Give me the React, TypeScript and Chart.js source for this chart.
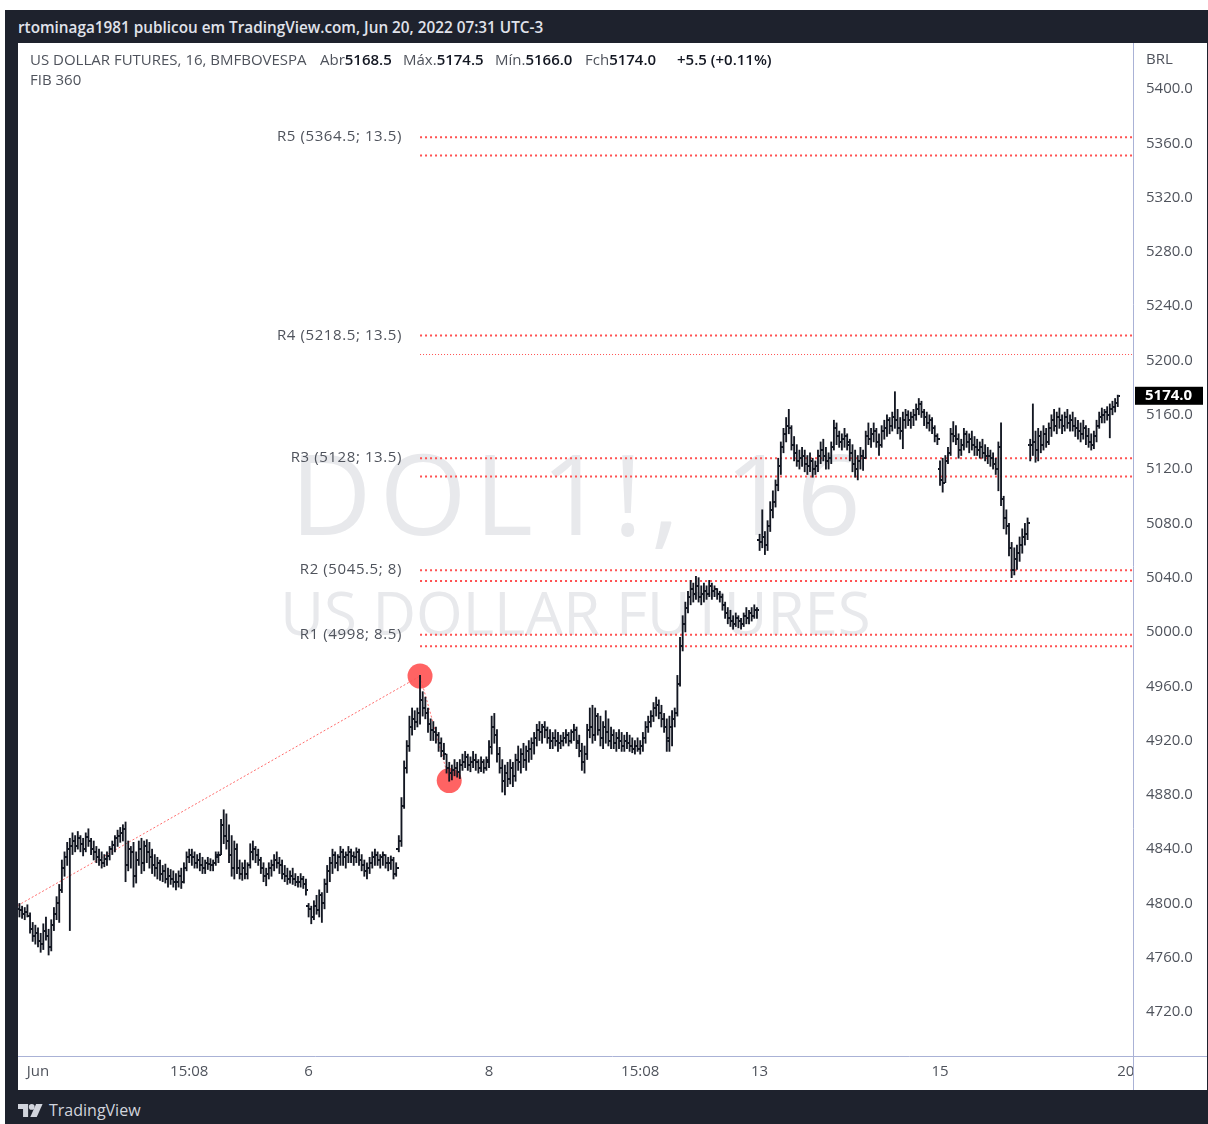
import React, { useEffect, useRef } from 'react';
import { Chart, registerables } from 'chart.js';

Chart.register(...registerables);

// [open, high, low, close] per 16-minute bar
type OHLC = [number, number, number, number];

const may31: OHLC[] = [
  [4796, 4800, 4790, 4795], [4795, 4798, 4789, 4792], [4792, 4797, 4788, 4794], [4794, 4799, 4790, 4791],
  [4791, 4793, 4778, 4781], [4781, 4786, 4772, 4776], [4776, 4784, 4770, 4778],
];

const jun01: OHLC[] = [
  [4778, 4782, 4768, 4772], [4772, 4778, 4764, 4770], [4770, 4785, 4766, 4780], [4780, 4790, 4773, 4776],
  [4776, 4781, 4762, 4768], [4768, 4788, 4765, 4784], [4784, 4797, 4780, 4792], [4792, 4805, 4788, 4800],
  [4800, 4814, 4786, 4810], [4810, 4832, 4808, 4826], [4826, 4838, 4820, 4834], [4834, 4845, 4828, 4840],
  [4840, 4848, 4780, 4842], [4842, 4852, 4836, 4846], [4846, 4850, 4838, 4842], [4842, 4853, 4840, 4848],
  [4848, 4850, 4838, 4844], [4844, 4848, 4835, 4840], [4840, 4852, 4838, 4849], [4849, 4855, 4842, 4846],
  [4846, 4848, 4836, 4840], [4840, 4846, 4832, 4838], [4838, 4842, 4830, 4834], [4834, 4840, 4828, 4832],
  [4832, 4838, 4826, 4830], [4830, 4836, 4827, 4833], [4833, 4838, 4828, 4835], [4835, 4842, 4832, 4840],
  [4840, 4846, 4836, 4843], [4843, 4850, 4838, 4848], [4848, 4854, 4842, 4850], [4850, 4856, 4845, 4852],
  [4852, 4858, 4846, 4855], [4855, 4860, 4816, 4828],
];

const jun02: OHLC[] = [
  [4828, 4846, 4824, 4840], [4840, 4842, 4826, 4838], [4838, 4845, 4812, 4820], [4820, 4838, 4815, 4832],
  [4832, 4846, 4828, 4840], [4840, 4848, 4822, 4830], [4830, 4846, 4824, 4842], [4842, 4847, 4830, 4838],
  [4838, 4845, 4826, 4834], [4834, 4840, 4822, 4828], [4828, 4836, 4820, 4826], [4826, 4834, 4818, 4830],
  [4830, 4832, 4817, 4822], [4822, 4828, 4816, 4824], [4824, 4829, 4815, 4818], [4818, 4826, 4812, 4820],
  [4820, 4825, 4814, 4818], [4818, 4824, 4812, 4816], [4816, 4822, 4810, 4816], [4816, 4824, 4812, 4820],
  [4820, 4826, 4811, 4816], [4816, 4830, 4815, 4826], [4826, 4838, 4824, 4834], [4834, 4840, 4830, 4836],
  [4836, 4840, 4828, 4834], [4834, 4838, 4826, 4830], [4830, 4836, 4826, 4832], [4832, 4837, 4824, 4828],
  [4828, 4834, 4822, 4826], [4826, 4832, 4822, 4830], [4830, 4834, 4825, 4829], [4829, 4833, 4824, 4828],
  [4828, 4832, 4824, 4830], [4830, 4838, 4828, 4836],
];

const jun03: OHLC[] = [
  [4834, 4838, 4830, 4836], [4836, 4862, 4836, 4858], [4858, 4869, 4844, 4850], [4850, 4866, 4840, 4846],
  [4846, 4858, 4830, 4836], [4836, 4850, 4820, 4826], [4826, 4846, 4818, 4840], [4840, 4844, 4822, 4826],
  [4826, 4832, 4818, 4822], [4822, 4830, 4817, 4826], [4826, 4832, 4818, 4822], [4822, 4830, 4818, 4828],
  [4828, 4844, 4826, 4838], [4838, 4846, 4832, 4840], [4840, 4842, 4830, 4836], [4836, 4840, 4828, 4832],
  [4832, 4834, 4822, 4826], [4826, 4830, 4816, 4820], [4820, 4826, 4813, 4822], [4822, 4830, 4818, 4826],
  [4826, 4832, 4820, 4828], [4828, 4836, 4824, 4832], [4832, 4838, 4826, 4830], [4830, 4834, 4822, 4828],
  [4828, 4832, 4818, 4822], [4822, 4828, 4816, 4820], [4820, 4826, 4814, 4818], [4818, 4824, 4815, 4820],
  [4820, 4826, 4814, 4818], [4818, 4822, 4813, 4816], [4816, 4820, 4812, 4816], [4816, 4822, 4812, 4818],
  [4818, 4820, 4811, 4814], [4814, 4818, 4806, 4810],
];

const jun06: OHLC[] = [
  [4798, 4800, 4790, 4796], [4796, 4798, 4785, 4790], [4790, 4802, 4788, 4798], [4798, 4806, 4792, 4795],
  [4795, 4810, 4790, 4806], [4806, 4808, 4786, 4800], [4800, 4818, 4796, 4814], [4814, 4828, 4808, 4824],
  [4824, 4834, 4816, 4830], [4830, 4840, 4822, 4836], [4836, 4838, 4826, 4830], [4830, 4836, 4824, 4834],
  [4834, 4842, 4828, 4838], [4838, 4840, 4828, 4834], [4834, 4838, 4826, 4836], [4836, 4842, 4830, 4838],
  [4838, 4840, 4830, 4835], [4835, 4838, 4828, 4834], [4834, 4841, 4830, 4838], [4838, 4840, 4828, 4832],
  [4832, 4836, 4824, 4828], [4828, 4832, 4820, 4824], [4824, 4830, 4818, 4826], [4826, 4834, 4822, 4830],
  [4830, 4838, 4826, 4834], [4834, 4840, 4828, 4836], [4836, 4838, 4828, 4832], [4832, 4836, 4826, 4834],
  [4834, 4838, 4828, 4836], [4836, 4836, 4826, 4830], [4830, 4834, 4824, 4830], [4830, 4835, 4825, 4832],
  [4832, 4834, 4818, 4822], [4822, 4830, 4820, 4826],
];

const jun07: OHLC[] = [
  [4840, 4850, 4838, 4846], [4846, 4878, 4842, 4872], [4872, 4905, 4870, 4900], [4900, 4920, 4896, 4916],
  [4916, 4938, 4912, 4930], [4930, 4944, 4924, 4936], [4936, 4942, 4928, 4934], [4934, 4944, 4930, 4940],
  [4940, 4968, 4932, 4950], [4950, 4956, 4938, 4944], [4944, 4952, 4936, 4940], [4940, 4944, 4926, 4932],
  [4932, 4936, 4920, 4928], [4928, 4934, 4920, 4926], [4926, 4930, 4918, 4924], [4924, 4926, 4912, 4918],
  [4918, 4922, 4908, 4912], [4912, 4918, 4906, 4910], [4910, 4910, 4896, 4900], [4900, 4904, 4890, 4896],
  [4896, 4902, 4891, 4898], [4898, 4906, 4894, 4900], [4900, 4904, 4893, 4897], [4897, 4906, 4892, 4902],
  [4902, 4910, 4898, 4904], [4904, 4912, 4900, 4908], [4908, 4910, 4898, 4902], [4902, 4908, 4897, 4904],
  [4904, 4912, 4900, 4906], [4906, 4910, 4898, 4904], [4904, 4906, 4896, 4900], [4900, 4908, 4897, 4904],
  [4904, 4906, 4896, 4900], [4900, 4908, 4898, 4904],
];

const jun08: OHLC[] = [
  [4906, 4920, 4900, 4915], [4915, 4938, 4910, 4930], [4930, 4940, 4918, 4924], [4924, 4928, 4904, 4910],
  [4910, 4915, 4896, 4900], [4900, 4906, 4882, 4890], [4890, 4902, 4880, 4896], [4896, 4904, 4886, 4892],
  [4892, 4906, 4888, 4900], [4900, 4904, 4886, 4894], [4894, 4910, 4890, 4906], [4906, 4916, 4898, 4904],
  [4904, 4914, 4896, 4910], [4910, 4918, 4900, 4906], [4906, 4916, 4898, 4912], [4912, 4920, 4904, 4914],
  [4914, 4922, 4906, 4918], [4918, 4926, 4910, 4922], [4922, 4932, 4916, 4928], [4928, 4934, 4920, 4926],
  [4926, 4932, 4918, 4930], [4930, 4934, 4922, 4928], [4928, 4930, 4918, 4922], [4922, 4928, 4914, 4920],
  [4920, 4926, 4914, 4922], [4922, 4928, 4916, 4920], [4920, 4926, 4912, 4918], [4918, 4924, 4914, 4920],
  [4920, 4926, 4916, 4922], [4922, 4928, 4918, 4924], [4924, 4926, 4916, 4920], [4920, 4928, 4918, 4926],
  [4926, 4932, 4920, 4928], [4928, 4930, 4914, 4918],
];

const jun09: OHLC[] = [
  [4920, 4924, 4908, 4912], [4912, 4918, 4898, 4904], [4904, 4916, 4896, 4910], [4910, 4932, 4906, 4928],
  [4928, 4944, 4922, 4930], [4930, 4946, 4918, 4924], [4924, 4944, 4920, 4938], [4938, 4940, 4924, 4928],
  [4928, 4938, 4916, 4922], [4922, 4934, 4914, 4930], [4930, 4942, 4918, 4926], [4926, 4936, 4916, 4920],
  [4920, 4930, 4914, 4924], [4924, 4928, 4914, 4918], [4918, 4926, 4912, 4922], [4922, 4928, 4914, 4920],
  [4920, 4926, 4912, 4916], [4916, 4924, 4912, 4920], [4920, 4926, 4914, 4918], [4918, 4924, 4912, 4916],
  [4916, 4922, 4911, 4914], [4914, 4920, 4910, 4916], [4916, 4922, 4912, 4914], [4914, 4920, 4910, 4916],
  [4916, 4926, 4912, 4922], [4922, 4934, 4918, 4930], [4930, 4938, 4926, 4934], [4934, 4942, 4930, 4938],
  [4938, 4948, 4934, 4944], [4944, 4952, 4938, 4946], [4946, 4950, 4936, 4940], [4940, 4946, 4930, 4936],
  [4936, 4940, 4926, 4930], [4930, 4936, 4912, 4920],
];

const jun10: OHLC[] = [
  [4922, 4938, 4912, 4930], [4930, 4942, 4916, 4936], [4936, 4944, 4930, 4940], [4940, 4968, 4938, 4962],
  [4962, 4996, 4960, 4990], [4990, 5012, 4986, 5006], [5006, 5022, 5000, 5018], [5018, 5030, 5014, 5026],
  [5026, 5038, 5020, 5032], [5032, 5036, 5022, 5028], [5028, 5041, 5024, 5034], [5034, 5040, 5022, 5026],
  [5026, 5034, 5020, 5028], [5028, 5036, 5022, 5030], [5030, 5034, 5024, 5028], [5028, 5038, 5026, 5034],
  [5034, 5036, 5024, 5030], [5030, 5034, 5026, 5032], [5032, 5032, 5024, 5028], [5028, 5030, 5022, 5026],
  [5026, 5028, 5016, 5020], [5020, 5022, 5010, 5014], [5014, 5018, 5006, 5010], [5010, 5016, 5004, 5008],
  [5008, 5012, 5002, 5006], [5006, 5014, 5004, 5010], [5010, 5012, 5003, 5008], [5008, 5010, 5002, 5006],
  [5006, 5014, 5004, 5012], [5012, 5018, 5006, 5010], [5010, 5016, 5006, 5014], [5014, 5018, 5008, 5012],
  [5012, 5020, 5010, 5016], [5016, 5018, 5010, 5016],
];

const jun13: OHLC[] = [
  [5068, 5072, 5060, 5066], [5066, 5090, 5062, 5070], [5070, 5074, 5057, 5064], [5064, 5082, 5060, 5078],
  [5078, 5096, 5074, 5090], [5090, 5104, 5084, 5096], [5096, 5112, 5092, 5108], [5108, 5128, 5104, 5122],
  [5122, 5140, 5116, 5136], [5136, 5150, 5132, 5146], [5146, 5158, 5140, 5152], [5152, 5164, 5146, 5150],
  [5150, 5152, 5134, 5138], [5138, 5144, 5126, 5132], [5132, 5138, 5122, 5126], [5126, 5134, 5120, 5128],
  [5128, 5136, 5122, 5130], [5130, 5134, 5118, 5124], [5124, 5130, 5116, 5122], [5122, 5132, 5118, 5126],
  [5126, 5128, 5114, 5120], [5120, 5126, 5116, 5122], [5122, 5134, 5118, 5130], [5130, 5140, 5124, 5134],
  [5134, 5142, 5126, 5130], [5130, 5136, 5120, 5126], [5126, 5132, 5120, 5128], [5128, 5140, 5124, 5136],
  [5136, 5156, 5134, 5150], [5150, 5154, 5138, 5144], [5144, 5148, 5136, 5140], [5140, 5146, 5134, 5142],
  [5142, 5150, 5136, 5144], [5144, 5146, 5134, 5138],
];

const jun14: OHLC[] = [
  [5140, 5142, 5126, 5132], [5132, 5138, 5118, 5124], [5124, 5134, 5114, 5120], [5120, 5130, 5112, 5126],
  [5126, 5136, 5120, 5130], [5130, 5134, 5119, 5128], [5128, 5148, 5128, 5144], [5144, 5154, 5138, 5142],
  [5142, 5150, 5136, 5146], [5146, 5154, 5140, 5148], [5148, 5150, 5136, 5140], [5140, 5146, 5130, 5138],
  [5138, 5152, 5136, 5148], [5148, 5156, 5142, 5150], [5150, 5160, 5144, 5156], [5156, 5158, 5146, 5152],
  [5152, 5162, 5148, 5158], [5158, 5177, 5150, 5156], [5156, 5164, 5146, 5150], [5150, 5158, 5142, 5148],
  [5148, 5162, 5135, 5156], [5156, 5164, 5150, 5160], [5160, 5163, 5152, 5156], [5156, 5162, 5150, 5158],
  [5158, 5164, 5152, 5160], [5160, 5168, 5156, 5164], [5164, 5172, 5160, 5168], [5168, 5170, 5158, 5162],
  [5162, 5164, 5152, 5158], [5158, 5162, 5150, 5154], [5154, 5160, 5148, 5156], [5156, 5158, 5146, 5150],
  [5150, 5152, 5140, 5144], [5144, 5146, 5138, 5142],
];

const jun15: OHLC[] = [
  [5120, 5126, 5108, 5112], [5112, 5128, 5103, 5110], [5110, 5130, 5110, 5126], [5126, 5136, 5124, 5132],
  [5132, 5150, 5130, 5146], [5146, 5155, 5140, 5144], [5144, 5152, 5138, 5142], [5142, 5146, 5128, 5134],
  [5134, 5142, 5130, 5138], [5138, 5150, 5134, 5146], [5146, 5148, 5136, 5140], [5140, 5146, 5132, 5142],
  [5142, 5148, 5134, 5138], [5138, 5144, 5130, 5136], [5136, 5142, 5130, 5134], [5134, 5140, 5128, 5136],
  [5136, 5142, 5128, 5132], [5132, 5138, 5126, 5130], [5130, 5136, 5124, 5130], [5130, 5134, 5122, 5128],
  [5128, 5132, 5120, 5124], [5124, 5128, 5116, 5120], [5120, 5140, 5104, 5136], [5136, 5154, 5093, 5098],
  [5098, 5100, 5076, 5084], [5084, 5090, 5072, 5078], [5078, 5080, 5056, 5062], [5062, 5066, 5040, 5046],
  [5046, 5062, 5042, 5054], [5054, 5064, 5046, 5058], [5058, 5070, 5052, 5064], [5064, 5076, 5058, 5070],
  [5070, 5080, 5064, 5072], [5072, 5084, 5068, 5080],
];

const jun17: OHLC[] = [
  [5138, 5142, 5126, 5138], [5138, 5168, 5130, 5140], [5140, 5148, 5125, 5134], [5134, 5150, 5126, 5144],
  [5144, 5148, 5132, 5138], [5138, 5152, 5134, 5146], [5146, 5150, 5136, 5140], [5140, 5154, 5138, 5150],
  [5150, 5160, 5144, 5156], [5156, 5164, 5148, 5152], [5152, 5162, 5146, 5158], [5158, 5165, 5150, 5156],
  [5156, 5160, 5146, 5152], [5152, 5162, 5148, 5158], [5158, 5164, 5150, 5154], [5154, 5160, 5148, 5156],
  [5156, 5162, 5148, 5152], [5152, 5158, 5144, 5150], [5150, 5156, 5142, 5148], [5148, 5154, 5140, 5146],
  [5146, 5156, 5142, 5150], [5150, 5152, 5138, 5144], [5144, 5150, 5136, 5140], [5140, 5146, 5134, 5138],
  [5138, 5148, 5135, 5144], [5144, 5156, 5140, 5152], [5152, 5162, 5150, 5158], [5158, 5165, 5154, 5160],
  [5160, 5164, 5154, 5162], [5162, 5166, 5156, 5160], [5160, 5168, 5143, 5164], [5164, 5170, 5160, 5166],
  [5166, 5172, 5162, 5168.5], [5168.5, 5174.5, 5166, 5174],
];

const sessions: OHLC[][] = [may31, jun01, jun02, jun03, jun06, jun07, jun08, jun09, jun10, jun13, jun14, jun15, jun17];
const bars: OHLC[] = sessions.flat();

// time axis (bar index of each label)
const xTickIndex = [7, 64, 109, 177, 234, 279, 347, 417];
const xTickLabels = ['Jun', '15:08', '6', '8', '15:08', '13', '15', '20'];
const indexMin = -0.54;
const indexMax = 419.74;

// price axis
const yTickValues = [4720, 4760, 4800, 4840, 4880, 4920, 4960, 5000, 5040, 5080, 5120, 5160, 5200, 5240, 5280, 5320, 5360, 5400];
const priceMin = 4687.6;
const priceMax = 5433.9;

// FIB 360 levels: name, level, range
const rNames = ['R1', 'R2', 'R3', 'R4', 'R5'];
const rLevels = [4998, 5045.5, 5128, 5218.5, 5364.5];
const rRanges = [8.5, 8, 13.5, 13.5, 13.5];
const rStartIndex = 151;

// swing drawing
const swingIndex = [-0.6, 151, 162];
const swingPrice = [4798.5, 4967.5, 4890.5];
const markerIndex = [151, 162];
const markerPrice = [4967.5, 4890.5];

const lastClose = 5174.0;

const FONT = '"Open Sans", "DejaVu Sans", sans-serif';
const TEXT = '#4f535c';
const RED = '#ff5252';

export default function App() {
  const ref = useRef<HTMLCanvasElement>(null);

  useEffect(() => {
    const canvas = ref.current;
    if (!canvas) return;

    const mkTick = (left: boolean) => {
      const c = document.createElement('canvas');
      c.width = 5;
      c.height = 2;
      const g = c.getContext('2d')!;
      g.fillStyle = '#131722';
      if (left) g.fillRect(0, 0, 2, 2);
      else g.fillRect(3, 0, 2, 2);
      return c;
    };
    const openTick = mkTick(true);
    const closeTick = mkTick(false);

    const decor = {
      id: 'tvDecor',
      beforeDatasetsDraw(chart: any) {
        const { ctx, chartArea: a, scales } = chart;
        const xs = scales.x;
        const ys = scales.y;
        ctx.save();
        // watermark
        const cx = (a.left + a.right) / 2;
        ctx.fillStyle = '#e8e9ec';
        ctx.textAlign = 'center';
        ctx.textBaseline = 'alphabetic';
        ctx.font = `112px ${FONT}`;
        (ctx as any).letterSpacing = '8px';
        ctx.fillText('DOL1!, 16', cx + 4, a.top + 492);
        (ctx as any).letterSpacing = '0px';
        ctx.font = `60px ${FONT}`;
        ctx.fillText('US DOLLAR FUTURES', cx, a.top + 592);

        // FIB 360 levels
        const x0 = xs.getPixelForValue(rStartIndex);
        const x1 = a.right;
        rLevels.forEach((lv, k) => {
          const pair = [lv, lv - rRanges[k]];
          pair.forEach((p, m) => {
            const thin = k === 3 && m === 1;
            const py = thin ? Math.round(ys.getPixelForValue(p)) + 0.5 : ys.getPixelForValue(p);
            ctx.beginPath();
            ctx.strokeStyle = RED;
            ctx.lineWidth = thin ? 1 : 2;
            ctx.setLineDash(thin ? [1, 2] : [2, 3]);
            ctx.moveTo(x0, py);
            ctx.lineTo(x1, py);
            ctx.stroke();
          });
          ctx.setLineDash([]);
          ctx.fillStyle = TEXT;
          ctx.font = `15px ${FONT}`;
          (ctx as any).letterSpacing = '0.6px';
          ctx.textAlign = 'right';
          ctx.textBaseline = 'middle';
          ctx.fillText(`${rNames[k]} (${lv}; ${rRanges[k]})`, x0 - 18, ys.getPixelForValue(lv));
          (ctx as any).letterSpacing = '0px';
        });
        ctx.restore();
      },
      afterDraw(chart: any) {
        const { ctx, chartArea: a, scales, width, height } = chart;
        const ys = scales.y;
        ctx.save();
        ctx.strokeStyle = '#aab2d6';
        ctx.lineWidth = 1;
        ctx.beginPath();
        ctx.moveTo(0, Math.round(a.bottom) + 0.5);
        ctx.lineTo(width, Math.round(a.bottom) + 0.5);
        ctx.moveTo(Math.round(a.right) + 0.5, 0);
        ctx.lineTo(Math.round(a.right) + 0.5, height);
        ctx.stroke();
        // last price badge
        const py = ys.getPixelForValue(lastClose);
        ctx.fillStyle = '#000000';
        ctx.fillRect(a.right + 2, py - 9, 68, 18);
        ctx.fillStyle = '#ffffff';
        ctx.font = `bold 15px ${FONT}`;
        ctx.textAlign = 'left';
        ctx.textBaseline = 'middle';
        ctx.fillText(lastClose.toFixed(1), a.right + 12, py);
        ctx.restore();
      },
    };

    const chart = new Chart(canvas, {
      type: 'bar',
      data: {
        datasets: [
          {
            type: 'bar',
            data: bars.map((b, i) => ({ x: i, y: [b[2], b[1]] })) as any,
            backgroundColor: '#131722',
            borderWidth: 0,
            barThickness: 1.2,
            grouped: false,
            order: 1,
          } as any,
          {
            type: 'line',
            data: bars.map((b, i) => ({ x: i, y: b[0] })),
            showLine: false,
            pointStyle: openTick,
            pointRadius: 2,
            order: 0,
          } as any,
          {
            type: 'line',
            data: bars.map((b, i) => ({ x: i, y: b[3] })),
            showLine: false,
            pointStyle: closeTick,
            pointRadius: 2,
            order: 0,
          } as any,
          {
            type: 'line',
            data: swingIndex.map((x, k) => ({ x, y: swingPrice[k] })),
            borderColor: 'rgba(255,82,82,0.85)',
            borderWidth: 1,
            borderDash: [2, 2],
            pointRadius: 0,
            tension: 0,
            fill: false,
            order: 3,
          } as any,
          {
            type: 'scatter',
            data: markerIndex.map((x, k) => ({ x, y: markerPrice[k] })),
            backgroundColor: 'rgba(255,82,82,0.9)',
            borderWidth: 0,
            pointRadius: 12.5,
            order: 2,
          } as any,
        ],
      },
      options: {
        responsive: false,
        animation: false,
        events: [],
        layout: { padding: 0, autoPadding: false },
        plugins: { legend: { display: false }, tooltip: { enabled: false }, title: { display: false } },
        scales: {
          x: {
            type: 'linear',
            min: indexMin,
            max: indexMax,
            offset: false,
            grid: { display: false, drawTicks: false },
            border: { display: false },
            afterBuildTicks: (s: any) => {
              s.ticks = xTickIndex.map((v) => ({ value: v }));
            },
            afterFit: (s: any) => {
              s.height = 34;
              s.paddingLeft = 0;
              s.paddingRight = 0;
              s.paddingTop = 0;
              s.paddingBottom = 0;
            },
            ticks: {
              autoSkip: false,
              maxRotation: 0,
              minRotation: 0,
              padding: 7,
              color: TEXT,
              font: { family: FONT, size: 15 },
              callback: (_v: any, i: number) => xTickLabels[i],
            },
          },
          y: {
            type: 'linear',
            position: 'right',
            min: priceMin,
            max: priceMax,
            grid: { display: false, drawTicks: false },
            border: { display: false },
            afterBuildTicks: (s: any) => {
              s.ticks = yTickValues.map((v) => ({ value: v }));
            },
            afterFit: (s: any) => {
              s.width = 74;
              s.paddingLeft = 0;
              s.paddingRight = 0;
              s.paddingTop = 0;
              s.paddingBottom = 0;
            },
            ticks: {
              padding: 13,
              color: TEXT,
              font: { family: FONT, size: 15 },
              callback: (v: any) => Number(v).toFixed(1),
            },
          },
        },
      } as any,
      plugins: [decor],
    });
    return () => chart.destroy();
  }, []);

  const abs = (left: number, top: number, extra: React.CSSProperties = {}): React.CSSProperties => ({
    position: 'absolute',
    left,
    top,
    whiteSpace: 'nowrap',
    ...extra,
  });
  const val: React.CSSProperties = { color: '#131722', fontWeight: 600 };

  return (
    <div style={{ position: 'absolute', left: 0, top: 0, width: 1208, height: 1124, background: '#ffffff', overflow: 'hidden', fontFamily: FONT }}>
      <div style={{ position: 'absolute', left: 5, top: 10, width: 1203, height: 1114, background: '#1e222d' }} />
      <div style={abs(18, 17, { color: '#e0e3eb', fontSize: 15.3, fontWeight: 600, lineHeight: '20px' })}>
        rtominaga1981 publicou em TradingView.com, Jun 20, 2022 07:31 UTC-3
      </div>
      <div style={{ position: 'absolute', left: 18, top: 43, width: 1189, height: 1047, background: '#ffffff' }}>
        <canvas ref={ref} width={1189} height={1047} style={{ display: 'block', width: 1189, height: 1047 }} />
      </div>
      <div style={{ position: 'absolute', left: 0, top: 0, fontSize: 15, lineHeight: '20px', color: TEXT }}>
        <span style={abs(30, 49)}>US DOLLAR FUTURES, 16, BMFBOVESPA</span>
        <span style={abs(320, 49)}>Abr<span style={val}>5168.5</span></span>
        <span style={abs(403, 49)}>Máx.<span style={val}>5174.5</span></span>
        <span style={abs(495, 49)}>Mín.<span style={val}>5166.0</span></span>
        <span style={abs(585, 49)}>Fch<span style={val}>5174.0</span></span>
        <span style={abs(677, 49, val)}>+5.5 (+0.11%)</span>
        <span style={abs(30, 69)}>FIB 360</span>
        <span style={abs(1146, 48)}>BRL</span>
      </div>
      <svg style={{ position: 'absolute', left: 18, top: 1104 }} width="26" height="13" viewBox="0 0 36 18">
        <path d="M0 0h14v18H7V7H0z" fill="#d1d4dc" />
        <circle cx="19" cy="4" r="4" fill="#d1d4dc" />
        <path d="M25 0h9l-8 18h-9z" fill="#d1d4dc" />
      </svg>
      <div style={abs(49, 1100, { color: '#d1d4dc', fontSize: 16, lineHeight: '20px', fontWeight: 500 })}>TradingView</div>
    </div>
  );
}
